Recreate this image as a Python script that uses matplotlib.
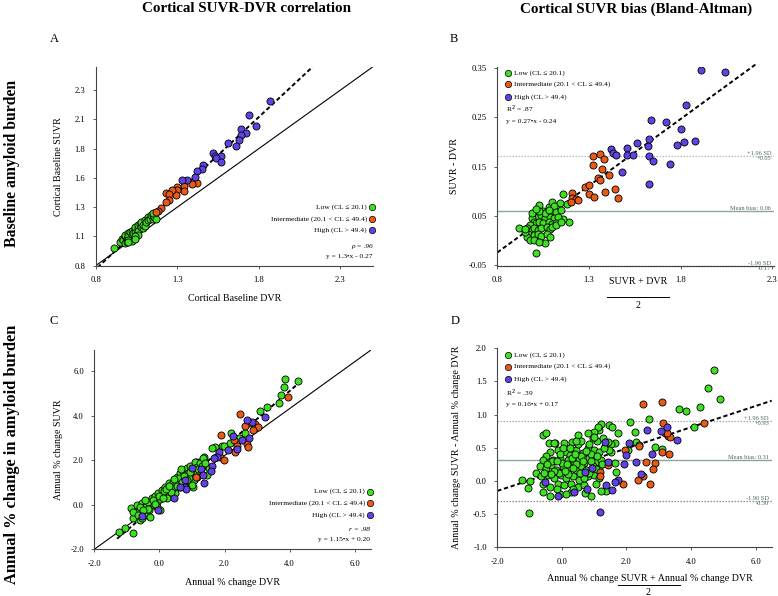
import numpy as np
import matplotlib
matplotlib.use("Agg")
import matplotlib.pyplot as plt
from matplotlib.lines import Line2D

plt.rcParams["font.family"] = ["Liberation Serif", "DejaVu Serif"]

GREEN = "#3fe021"
ORANGE = "#ea5a17"
BLUE = "#6143e4"
NOTE = "#4f6464"

group_labels = ["Low (CL \u2264 20.1)", "Intermediate (20.1 < CL \u2264 49.4)", "High (CL > 49.4)"]

# A: cortical baseline DVR (x) vs SUVR (y)
a_low = np.array([
    [0.91, 0.95], [0.95, 1.00], [0.96, 1.03], [0.97, 1.02], [0.98, 1.05], [0.98, 1.06], [0.99, 1.03],
    [1.00, 1.08], [1.00, 1.05], [1.01, 1.09], [1.02, 1.06], [1.02, 1.10], [1.03, 1.03], [1.03, 1.08],
    [1.04, 1.12], [1.04, 1.09], [1.04, 1.13], [1.05, 1.06], [1.06, 1.12], [1.06, 1.15], [1.06, 1.10],
    [1.07, 1.16], [1.08, 1.13], [1.08, 1.17], [1.09, 1.12], [1.09, 1.15], [1.10, 1.19], [1.10, 1.14],
    [1.11, 1.17], [1.12, 1.22], [1.12, 1.19], [1.13, 1.20], [1.14, 1.23], [1.15, 1.20], [1.15, 1.23],
    [1.16, 1.22], [0.98, 0.99], [1.02, 1.01], [1.06, 1.06], [0.99, 1.00], [1.00, 1.02], [1.04, 1.05],
    [1.00, 1.00], [1.04, 1.03], [1.17, 1.20], [1.15, 1.25],
])
a_int = np.array([
    [1.42, 1.51], [1.39, 1.50], [1.34, 1.48], [1.34, 1.44], [1.30, 1.47], [1.30, 1.45], [1.29, 1.40],
    [1.27, 1.45], [1.23, 1.42], [1.25, 1.41], [1.25, 1.36], [1.23, 1.34], [1.20, 1.29], [1.18, 1.27],
    [1.17, 1.26],
])
a_high = np.array([
    [1.87, 2.21], [1.74, 2.09], [1.78, 1.99], [1.69, 1.97], [1.72, 1.93], [1.69, 1.92], [1.68, 1.87],
    [1.66, 1.82], [1.61, 1.85], [1.52, 1.76], [1.53, 1.74], [1.57, 1.74], [1.54, 1.72], [1.57, 1.69],
    [1.46, 1.66], [1.45, 1.63], [1.42, 1.61], [1.41, 1.56], [1.36, 1.53], [1.33, 1.53],
])

# B: Bland-Altman, mean (x) vs SUVR - DVR (y)
b_low = np.array([
    [0.92, 0.025], [1.01, -0.025], [1.06, -0.004], [1.16, 0.094], [1.18, 0.075], [1.19, 0.038],
    [1.16, 0.043], [1.14, 0.076], [1.03, 0.072], [1.08, 0.068], [1.10, 0.078], [1.11, 0.070],
    [1.05, 0.061], [1.07, 0.058], [1.10, 0.056], [1.12, 0.058], [1.00, 0.055], [1.02, 0.048],
    [1.04, 0.051], [1.06, 0.045], [1.09, 0.048], [1.11, 0.045], [1.13, 0.048], [0.99, 0.045],
    [1.00, 0.038], [1.01, 0.035], [1.03, 0.038], [1.05, 0.035], [1.08, 0.038], [1.10, 0.033],
    [1.12, 0.036], [0.98, 0.031], [0.96, 0.025], [0.99, 0.021], [1.00, 0.025], [1.02, 0.021],
    [1.04, 0.025], [1.07, 0.028], [1.09, 0.023], [1.10, 0.028], [0.97, 0.014], [1.00, 0.011],
    [1.02, 0.013], [1.04, 0.009], [1.07, 0.014], [1.09, 0.008], [0.96, 0.008], [0.98, 0.001],
    [1.00, 0.002], [1.03, -0.002], [0.95, 0.018], [0.99, 0.055], [1.06, 0.055], [1.03, 0.061],
    [1.08, 0.063], [1.15, 0.063], [1.12, 0.031], [0.95, 0.023], [1.01, 0.065], [1.15, 0.038],
])
b_int = np.array([
    [1.32, 0.171], [1.36, 0.175], [1.38, 0.165], [1.32, 0.154], [1.37, 0.145], [1.41, 0.133],
    [1.35, 0.126], [1.36, 0.123], [1.28, 0.108], [1.30, 0.112], [1.30, 0.095], [1.33, 0.088],
    [1.39, 0.098], [1.44, 0.104], [1.46, 0.086], [1.21, 0.096], [1.21, 0.086], [1.23, 0.084],
    [1.24, 0.082], [1.20, 0.078],
])
b_high = np.array([
    [1.91, 0.345], [2.04, 0.342], [1.83, 0.274], [1.64, 0.245], [1.72, 0.240], [1.80, 0.225],
    [1.42, 0.185], [1.43, 0.177], [1.45, 0.173], [1.51, 0.187], [1.56, 0.197], [1.62, 0.191],
    [1.63, 0.205], [1.78, 0.193], [1.82, 0.200], [1.88, 0.201], [1.51, 0.173], [1.54, 0.174],
    [1.63, 0.171], [1.65, 0.162], [1.74, 0.155], [1.48, 0.139], [1.63, 0.115],
])

# C: annual % change DVR (x) vs SUVR (y)
c_low = np.array([
    [3.87, 5.63], [4.26, 5.55], [3.83, 5.27], [3.74, 4.91], [3.66, 4.55], [3.30, 4.40], [3.08, 4.21],
    [2.64, 3.20], [2.21, 3.20], [2.43, 2.98], [1.92, 2.64], [1.71, 2.61], [1.63, 2.53], [1.37, 2.16],
    [1.37, 1.96], [1.23, 1.93], [1.11, 1.90], [1.46, 1.34], [1.52, 1.63], [1.03, 0.81], [-1.06, -1.06],
    [-0.88, -0.16], [-0.80, -0.61], [-0.70, -0.01], [-0.62, -0.27], [-0.54, 0.06], [-0.49, -0.39],
    [-0.44, -0.09], [-0.39, -0.46], [-0.34, 0.14], [-0.31, -0.24], [-0.24, 0.29], [-0.18, -0.01],
    [-0.13, 0.39], [-0.08, 0.14], [-0.03, 0.51], [0.02, 0.24], [0.07, 0.66], [0.12, 0.44], [0.18, 0.81],
    [0.23, 0.54], [0.28, 0.96], [0.33, 0.69], [0.38, 0.89], [0.43, 1.04], [0.48, 0.74], [0.53, 1.26],
    [0.59, 1.04], [0.64, 1.41], [0.69, 1.19], [0.74, 1.53], [0.79, 1.29], [0.84, 1.64], [0.89, 1.41],
    [0.94, 1.74], [1.03, 1.53], [1.10, 1.93], [1.17, 1.71], [1.25, 1.86], [1.35, 2.08], [1.05, 1.11],
    [0.64, 0.81], [0.28, 0.44], [-0.08, -0.09], [-0.59, -0.68], [-0.80, -0.31], [-0.29, -0.54],
    [0.02, -0.24], [0.23, 0.29], [0.48, 0.51], [0.79, 0.96], [1.00, 0.89], [1.15, 1.41], [-0.44, 0.21],
    [-0.65, -0.46], [-1.24, -1.21], [-0.80, -1.28], [-0.52, -0.61], [2.18, 2.79], [1.97, 2.64],
    [0.15, 0.60], [0.40, 0.70], [0.60, 1.20], [0.90, 1.20], [-0.20, 0.20], [0.50, 0.95], [0.70, 1.00],
    [1.20, 1.60], [-0.60, -0.10], [0.00, 0.40], [0.10, 0.30], [0.35, 0.55], [0.55, 0.85], [0.75, 1.30],
    [0.95, 1.45], [1.30, 1.75], [-0.35, -0.20], [-0.15, 0.05], [0.20, 0.70], [0.45, 1.15],
    [0.65, 1.60], [0.85, 1.10], [-0.50, -0.25], [1.40, 1.85], [0.30, 0.85],
])
c_int = np.array([
    [3.95, 4.85], [2.48, 4.05], [2.74, 3.68], [2.94, 3.62], [3.03, 3.47], [2.89, 3.35], [2.62, 3.53],
    [1.90, 3.13], [2.28, 2.91], [2.69, 2.73], [2.72, 2.58], [2.38, 2.64], [2.33, 2.38], [1.87, 2.13],
    [1.97, 2.01], [1.15, 1.26], [1.12, 1.26],
])
c_high = np.array([
    [3.25, 3.95], [2.84, 3.73], [2.69, 3.80], [2.25, 3.06], [2.53, 2.91], [2.74, 2.98], [2.12, 2.46],
    [2.38, 2.49], [1.82, 2.38], [1.77, 2.13], [1.69, 2.08], [1.63, 1.74], [1.59, 1.53], [1.38, 0.96],
    [1.28, 1.59], [0.80, 1.10], [0.79, 0.81], [0.44, 0.30], [-0.04, -0.23], [-0.52, -0.50], [0.82, 0.69],
    [0.62, 0.81], [1.00, 1.64], [1.35, 1.34],
])

# D: Bland-Altman of annual % change
d_low = np.array([
    [4.72, 1.68], [4.53, 1.40], [4.89, 1.24], [4.29, 1.11], [3.64, 1.09], [3.85, 1.06], [4.08, 0.81],
    [2.69, 0.94], [2.12, 0.89], [3.10, 0.48], [2.90, 0.51], [2.26, 0.74], [1.74, 0.73], [2.31, 0.59],
    [1.64, 0.57], [2.38, 0.54], [1.67, 0.14], [1.65, 0.27], [1.51, 0.55], [1.52, 0.44], [1.35, 0.53],
    [1.21, 0.86], [1.47, 0.85], [1.55, 0.81], [1.16, 0.77], [2.06, 0.47], [1.42, 0.59], [1.47, 0.47],
    [1.38, -0.15], [-1.01, -0.49], [-1.23, 0.01], [-0.99, 0.00], [-1.05, -0.11], [-0.59, 0.69],
    [-0.41, 0.57], [-0.21, 0.57], [-0.38, -0.23], [-0.59, -0.16], [0.91, -0.23], [0.72, -0.18],
    [1.21, -0.15], [0.56, -0.06], [0.28, -0.17],
    [-0.48, 0.72], [0.49, 0.69], [0.32, 0.59], [-0.23, 0.57], [0.08, 0.57], [1.12, 0.82], [1.01, 0.74],
    [-0.38, 0.44], [-0.12, 0.47], [0.13, 0.44], [0.24, 0.39], [0.44, 0.47], [0.65, 0.42], [0.80, 0.49],
    [1.01, 0.47], [1.16, 0.44], [1.31, 0.49], [-0.48, 0.37], [-0.59, 0.32], [-0.28, 0.32], [-0.07, 0.34],
    [0.18, 0.32], [0.39, 0.29], [0.54, 0.33], [0.70, 0.27], [0.85, 0.34], [1.06, 0.29], [1.21, 0.32],
    [-0.69, 0.22], [-0.48, 0.19], [-0.33, 0.24], [-0.18, 0.17], [0.03, 0.22], [0.24, 0.19], [0.44, 0.17],
    [0.60, 0.22], [0.75, 0.17], [0.95, 0.22], [1.16, 0.19], [-0.79, 0.12], [-0.64, 0.07], [-0.43, 0.09],
    [-0.23, 0.04], [-0.02, 0.09], [0.13, 0.04], [0.34, 0.08], [0.54, 0.02], [0.80, 0.07], [1.01, 0.09],
    [1.16, 0.04], [-0.59, -0.04], [-0.38, -0.09], [-0.12, -0.04], [0.08, -0.06], [0.29, -0.04],
    [0.49, -0.09], [0.70, -0.06], [1.06, -0.04], [-0.07, -0.20], [0.13, -0.19],
    [-0.30, 0.30], [0.00, 0.27], [0.30, 0.35], [0.60, 0.38], [0.90, 0.40], [-0.10, 0.12], [0.45, 0.25],
    [0.70, 0.05], [0.20, 0.10], [-0.45, 0.25], [1.10, 0.60], [0.95, 0.65], [0.50, 0.55], [0.05, 0.50],
    [-0.25, 0.15], [0.60, 0.60], [0.85, 0.55], [1.05, 0.18], [0.35, -0.12], [-0.15, -0.12],
    [0.82, 0.72], [1.00, 0.66], [1.28, 0.65], [0.44, 0.60], [0.15, 0.25], [0.40, 0.40], [0.65, 0.30],
    [-0.05, 0.40], [0.25, 0.50], [0.90, 0.30], [1.10, 0.38], [-0.35, 0.10], [0.55, 0.12], [0.75, 0.45],
    [-0.15, 0.30], [0.35, 0.20], [1.25, 0.25], [0.10, 0.15], [-0.55, 0.12], [0.85, 0.12],
])
d_int = np.array([
    [3.10, 1.19], [2.51, 1.16], [3.12, 0.88], [4.39, 0.87], [3.21, 0.73], [3.28, 0.68], [3.36, 0.67],
    [2.39, 0.53], [1.95, 0.47], [3.11, 0.44], [3.31, 0.40], [2.87, 0.27], [2.82, 0.18], [2.50, 0.07],
    [2.35, 0.02], [2.72, -0.04], [1.90, -0.04], [1.19, 0.13], [1.19, 0.07], [1.44, 0.24], [3.26, 0.72],
    [2.60, 0.29],
])
d_high = np.array([
    [2.65, 0.77], [3.08, 0.75], [3.26, 0.81], [3.57, 0.62], [2.08, 0.57], [1.98, 0.39], [2.80, 0.40],
    [2.29, 0.28], [1.93, 0.26], [1.42, 0.28], [2.46, 0.10], [1.74, 0.02], [1.65, -0.01], [1.36, -0.06],
    [1.56, -0.13], [0.39, -0.16], [0.78, -0.12], [-0.12, -0.23], [-0.51, -0.01], [0.73, 0.14],
    [0.94, 0.20], [1.18, -0.47], [1.33, 0.58],
])

colors = [GREEN, ORANGE, BLUE]


def draw_points(ax, groups):
    for pts, c in zip(groups, colors):
        ax.scatter(pts[:, 0], pts[:, 1], s=26, c=c, edgecolors="black", linewidths=0.6, zorder=3)


def style_axes(ax):
    for side in ["top", "right"]:
        ax.spines[side].set_visible(False)
    for side in ["left", "bottom"]:
        ax.spines[side].set_color("#444444")
        ax.spines[side].set_linewidth(0.8)
    ax.tick_params(labelsize=6.2, length=2.5, width=0.6, color="#444444", pad=5)


def legend_right(ax, ys):
    for lab, c, y in zip(group_labels, colors, ys):
        ax.text(0.978, y, lab, transform=ax.transAxes, ha="right", va="center", fontsize=5.4)
        ax.plot([0.996], [y], "o", ms=4.6, mfc=c, mec="black", mew=0.5,
                transform=ax.transAxes, clip_on=False)


def legend_left(ax, ys):
    for lab, c, y in zip(group_labels, colors, ys):
        ax.plot([0.04], [y], "o", ms=4.6, mfc=c, mec="black", mew=0.5,
                transform=ax.transAxes, clip_on=False)
        ax.text(0.06, y, lab, transform=ax.transAxes, ha="left", va="center", fontsize=5.4)


def limit_lines(ax, upper, mean, lower, labels, upper_color, lower_color):
    ax.axhline(upper, color=upper_color, ls=(0, (1.2, 1.2)), lw=0.9, zorder=1)
    ax.axhline(mean, color="#8ea3a3", lw=1.0, zorder=1)
    ax.axhline(lower, color=lower_color, ls=(0, (1.2, 1.2)), lw=0.9, zorder=1, clip_on=False)
    kw = dict(transform=ax.get_yaxis_transform(), ha="right", fontsize=4.6, color=NOTE, clip_on=False)
    ax.text(0.99, upper, "+1.96 SD", va="bottom", **kw)
    ax.text(0.99, upper, labels[0], va="top", **kw)
    ax.text(0.99, mean, labels[1], va="bottom", **kw)
    ax.text(0.99, lower, "-1.96 SD", va="bottom", **kw)
    ax.text(0.99, lower, labels[2], va="top", **kw)


W, H = 778, 596
fig = plt.figure(figsize=(W / 100, H / 100), dpi=100)


def px_axes(left, top, right, bottom):
    return fig.add_axes([left / W, 1 - bottom / H, (right - left) / W, (bottom - top) / H])


axA = px_axes(95.7, 66.7, 373, 265.7)
axB = px_axes(497.3, 66.7, 774, 265.7)
axC = px_axes(94.3, 350, 371, 549.3)
axD = px_axes(497.3, 348.3, 771.7, 547.3)

# ---- A
style_axes(axA)
axA.set_xlim(0.8, 2.5)
axA.set_ylim(0.8, 2.5)
axA.set_xticks([0.8, 1.3, 1.8, 2.3])
axA.set_xticklabels(["0.8", "1.3", "1.8", "2.3"])
axA.set_yticks([0.8, 1.05, 1.3, 1.55, 1.8, 2.05, 2.3])
axA.set_yticklabels(["0.8", "1.1", "1.3", "1.6", "1.8", "2.1", "2.3"])
axA.plot([0, 1], [0, 1], transform=axA.transAxes, color="black", lw=0.8, zorder=2)
xa = np.array([0.78, 2.13])
axA.plot(xa, 1.3 * xa - 0.27, color="black", ls=(0, (2.2, 1.4)), lw=1.4, zorder=2)
draw_points(axA, [a_low, a_int, a_high])
axA.set_xlabel("Cortical Baseline DVR", fontsize=7.2)
axA.xaxis.set_label_coords(0.5, -0.142)
axA.set_ylabel("Cortical Baseline SUVR", fontsize=7.2)
axA.yaxis.set_label_coords(-0.118, 0.5)
legend_right(axA, [0.293, 0.235, 0.177])
axA.text(0.998, 0.095, "\u03c1 = .96", transform=axA.transAxes, ha="right", va="center", fontsize=5.4,
         style="italic")
axA.text(0.998, 0.045, "y = 1.3\u2022x - 0.27", transform=axA.transAxes, ha="right", va="center",
         fontsize=5.4)

# ---- B
style_axes(axB)
axB.set_xlim(0.8, 2.31)
axB.set_ylim(-0.0507, 0.352)
axB.set_xticks([0.8, 1.3, 1.8, 2.3])
axB.set_xticklabels(["0.8", "1.3", "1.8", "2.3"])
axB.set_yticks([-0.05, 0.05, 0.15, 0.25, 0.35])
axB.set_yticklabels(["-0.05", "0.05", "0.15", "0.25", "0.35"])
limit_lines(axB, 0.171, 0.06, -0.0507, ["+0.05", "Mean bias: 0.06", "-0.17"], "#b9b9b9", "#333333")
xb = np.array([0.8, 2.22])
axB.plot(xb, 0.27 * xb - 0.24, color="black", ls=(0, (2.2, 1.4)), lw=1.4, zorder=2, clip_on=False)
draw_points(axB, [b_low, b_int, b_high])
axB.set_ylabel("SUVR - DVR", fontsize=7.2)
axB.yaxis.set_label_coords(-0.138, 0.5)
legend_left(axB, [0.970, 0.912, 0.849])
axB.text(0.03, 0.786, "R$^2$ = .87", transform=axB.transAxes, ha="left", va="center", fontsize=5.4)
axB.text(0.03, 0.724, "y = 0.27\u2022x - 0.24", transform=axB.transAxes, ha="left", va="center",
         fontsize=5.4)
fig.text(638.5 / W, 1 - 281 / H, "SUVR + DVR", ha="center", va="center", fontsize=7.2)
fig.add_artist(Line2D([607.3 / W, 669 / W], [1 - 297 / H, 1 - 297 / H], color="black", lw=0.7))
fig.text(638.5 / W, 1 - 306 / H, "2", ha="center", va="center", fontsize=7.2)

# ---- C
style_axes(axC)
axC.set_xlim(-2, 6.5)
axC.set_ylim(-2, 6.94)
axC.set_xticks([-2, 0, 2, 4, 6])
axC.set_xticklabels(["-2.0", "0.0", "2.0", "4.0", "6.0"])
axC.set_yticks([-2, 0, 2, 4, 6])
axC.set_yticklabels(["-2.0", "0.0", "2.0", "4.0", "6.0"])
axC.plot([0, 1], [0, 1], transform=axC.transAxes, color="black", lw=0.8, zorder=2)
xc = np.array([-1.3, 4.33])
axC.plot(xc, 1.25 * xc + 0.1, color="black", ls=(0, (2.2, 1.4)), lw=1.4, zorder=2)
draw_points(axC, [c_low, c_int, c_high])
axC.set_xlabel("Annual % change DVR", fontsize=7.2)
axC.xaxis.set_label_coords(0.5, -0.143)
axC.set_ylabel("Annual % change SUVR", fontsize=7.2)
axC.yaxis.set_label_coords(-0.113, 0.5)
legend_right(axC, [0.29, 0.233, 0.174])
axC.text(0.998, 0.10, "r = .98", transform=axC.transAxes, ha="right", va="center", fontsize=5.4,
         style="italic")
axC.text(0.998, 0.05, "y = 1.15\u2022x + 0.20", transform=axC.transAxes, ha="right", va="center",
         fontsize=5.4)

# ---- D
style_axes(axD)
axD.set_xlim(-2, 6.5)
axD.set_ylim(-1, 2)
axD.set_xticks([-2, 0, 2, 4, 6])
axD.set_xticklabels(["-2.0", "0.0", "2.0", "4.0", "6.0"])
axD.set_yticks([-1, -0.5, 0, 0.5, 1, 1.5, 2])
axD.set_yticklabels(["-1.0", "-0.5", "0.0", "0.5", "1.0", "1.5", "2.0"])
limit_lines(axD, 0.905, 0.31, -0.30, ["+0.93", "Mean bias: 0.31", "-0.30"], "#a9a9a9", "#8a8a8a")
xd = np.array([-2.0, 6.5])
axD.plot(xd, 0.16 * xd + 0.17, color="black", ls=(0, (2.2, 1.4)), lw=1.4, zorder=2)
draw_points(axD, [d_low, d_int, d_high])
axD.set_ylabel("Annual % change SUVR - Annual % change DVR", fontsize=7.2)
axD.yaxis.set_label_coords(-0.133, 0.5)
legend_left(axD, [0.966, 0.908, 0.846])
axD.text(0.03, 0.774, "R$^2$ = .39", transform=axD.transAxes, ha="left", va="center", fontsize=5.4)
axD.text(0.03, 0.72, "y = 0.16\u2022x + 0.17", transform=axD.transAxes, ha="left", va="center",
         fontsize=5.4)
fig.text(649.5 / W, 1 - 578.3 / H, "Annual % change SUVR + Annual % change DVR", ha="center",
         va="center", fontsize=7.2)
fig.add_artist(Line2D([618.3 / W, 679.7 / W], [1 - 585 / H, 1 - 585 / H], color="black", lw=0.7))
fig.text(648 / W, 1 - 592.7 / H, "2", ha="center", va="center", fontsize=7.2)

# ---- headings
fig.text(247 / W, 1 - 9 / H, "Cortical SUVR-DVR correlation", ha="center", va="center",
         fontsize=10.8, fontweight="bold")
fig.text(635.7 / W, 1 - 9 / H, "Cortical SUVR bias (Bland-Altman)", ha="center", va="center",
         fontsize=10.8, fontweight="bold")
fig.text(12 / W, 1 - 163 / H, "Baseline amyloid burden", rotation=90, ha="center", va="center",
         fontsize=11.3, fontweight="bold")
fig.text(12 / W, 1 - 454 / H, "Annual % change in amyloid burden", rotation=90, ha="center",
         va="center", fontsize=11.8, fontweight="bold")
for letter, x, y in [("A", 54.3, 39), ("B", 454, 39), ("C", 54, 320.7), ("D", 455, 320.7)]:
    fig.text(x / W, 1 - y / H, letter, ha="center", va="center", fontsize=9)

fig.savefig("out.png", dpi=100)
